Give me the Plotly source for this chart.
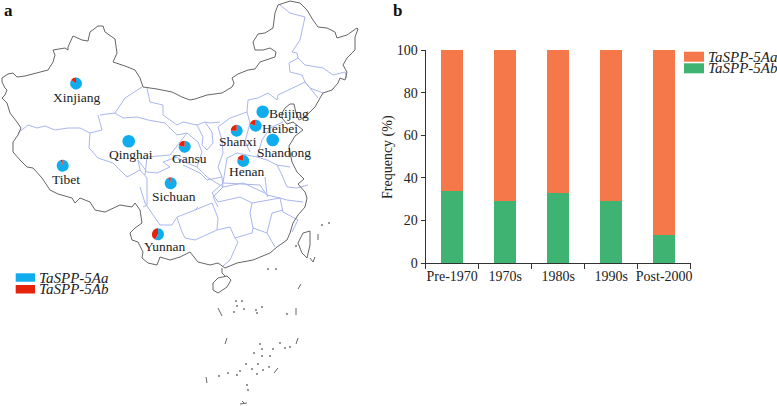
"""
plot.py - China map of TaSPP-5A allele shares (a) next to a stacked bar of frequency by era (b).
Map outlines are read off the reference in page pixels, so the overlay axes run 0-777 / 406-0.
"""

import plotly.graph_objects as go

W, H = 777, 406
SERIF = "Liberation Serif, Times New Roman, serif"
INK = "#222222"
BLUE = "#0FADEE"
RED = "#E5230D"
ORANGE = "#F4784A"
GREEN = "#3EB372"
BORDER = "#666666"
PROVINCE = "#AAB6EE"

# ── panel b data ─────────────────────────────────────────────────────────────
eras = ["Pre-1970", "1970s", "1980s", "1990s", "Post-2000"]
freq_5ab = [34, 29, 33, 29, 13]
freq_5aa = [66, 71, 67, 71, 87]

# ── panel a data ─────────────────────────────────────────────────────────────
regions = ["Xinjiang", "Qinghai", "Tibet", "Gansu", "Sichuan", "Yunnan",
           "Shanxi", "Heibei", "Beijing", "Shandong", "Henan"]
share_5ab = [15, 0, 6, 22, 7, 42, 25, 20, 0, 0, 20]
share_5aa = [85, 100, 94, 78, 93, 58, 75, 80, 100, 100, 80]
pie_x = [76, 128.7, 62.7, 184.7, 170.7, 158, 236.7, 255.7, 262.7, 272.7, 243.3]
pie_y = [83.5, 141.3, 165.7, 146.7, 183.3, 234.3, 130.7, 125.7, 111.7, 140, 161]
pie_r = [6, 6.3, 6, 6, 6, 6, 6, 6, 6.3, 6.3, 6]
label_x = [76.7, 130.7, 66, 189.3, 174, 164.3, 238.3, 280.3, 289, 284.3, 246.7]
label_y = [97.5, 154, 179.3, 158.3, 196, 246.7, 141.7, 128.3, 113.3, 152.3, 171.7]

border = [
    (18, 135), (21, 128), (17, 122), (10, 113), (7, 103), (2, 98), (5, 95), (7, 90), (5, 88),
    (2, 82), (2, 78), (8, 74), (13, 73), (17, 77), (25, 76), (32, 74), (40, 72), (48, 70),
    (53, 62), (55, 55), (53, 50), (65, 48), (68, 50), (68, 47), (73, 36), (82, 40), (88, 41),
    (90, 32), (98, 26), (103, 26), (105, 32), (115, 39), (117, 53), (113, 62), (125, 66),
    (135, 70), (140, 78), (143, 87), (157, 89), (172, 92), (182, 97), (190, 100), (195, 99),
    (207, 95), (222, 93), (232, 87), (234, 83), (232, 78), (238, 74), (248, 70), (255, 69),
    (260, 62), (275, 57), (276, 52), (270, 48), (263, 50), (255, 50), (253, 42), (258, 34),
    (265, 33), (273, 28), (275, 13), (278, 5), (290, 1), (300, 3), (307, 10), (313, 20),
    (318, 27), (327, 28), (335, 32), (337, 38), (347, 35), (357, 28), (358, 29), (355, 37),
    (355, 50), (347, 58), (343, 65), (347, 72), (345, 80), (340, 78), (338, 83), (332, 90),
    (323, 93), (320, 98), (315, 107), (310, 112), (303, 118), (299, 120), (296, 113),
    (294, 104), (290, 104), (285, 108), (282, 113), (282, 118), (287, 124), (293, 122),
    (300, 127), (303, 130), (295, 136), (289, 146), (290, 152), (292, 162), (297, 172),
    (302, 177), (304, 179), (298, 184), (305, 192), (307, 198), (305, 207), (298, 215),
    (293, 223), (290, 233), (287, 240), (277, 247), (270, 253), (253, 260), (237, 263),
    (225, 268), (218, 263), (210, 265), (198, 262), (190, 252), (180, 257), (170, 260),
    (160, 257), (157, 265), (148, 263), (142, 258), (143, 252), (138, 242), (132, 240),
    (130, 233), (135, 228), (142, 223), (140, 210), (135, 203), (132, 207), (120, 205),
    (105, 212), (95, 210), (90, 202), (80, 198), (75, 203), (72, 198), (58, 194), (50, 190),
    (42, 178), (33, 168), (27, 167), (20, 160), (13, 152), (13, 142), (18, 135),
]
taiwan = [(310, 231), (303, 233), (298, 243), (302, 253), (307, 258), (310, 245), (310, 231)]
hainan = [(218, 278), (213, 283), (213, 290), (218, 293), (227, 287), (231, 280), (227, 276), (218, 278)]
hainan_link = [(222, 268), (222, 273), (225, 276)]
sea_dashes = [
    [(298, 289), (301, 284)], [(218, 308), (222, 316)], [(296, 308), (296, 315)],
    [(225, 344), (227, 338)], [(296, 344), (298, 338)], [(274, 373), (278, 368)],
    [(206, 377), (207, 383)], [(240, 404), (247, 403)], [(242, 401), (244, 403)],
    [(318, 240), (318, 234)], [(310, 258), (313, 262)], [(315, 257), (313, 262)],
]
sea_dots_x = [236, 242, 237, 244, 234, 256, 262, 257, 287, 260, 262, 273, 280, 285, 290, 254, 262,
              270, 246, 258, 252, 263, 269, 240, 228, 219, 237, 257, 247, 248, 322, 329, 296, 268, 276]
sea_dots_y = [301, 301, 306, 309, 312, 310, 307, 313, 314, 344, 349, 349, 343, 348, 347, 353, 356,
              356, 364, 364, 369, 370, 367, 371, 373, 376, 375, 374, 385, 390, 225, 223, 246, 269, 269]

province_lines = [
    [(18, 133), (28, 125), (37, 128), (45, 126), (55, 130), (68, 128), (80, 128), (90, 133)],
    [(90, 133), (89, 148), (98, 158), (113, 163), (127, 177), (140, 170), (147, 178), (147, 205), (143, 207)],
    [(98, 115), (102, 130), (90, 133)],
    [(100, 115), (115, 113), (125, 98), (142, 87)],
    [(115, 113), (123, 118), (137, 117), (148, 120), (165, 123), (177, 135), (187, 133), (170, 155), (147, 157), (145, 175)],
    [(147, 88), (150, 102), (163, 105), (163, 115), (177, 125), (183, 122), (197, 125), (205, 122), (210, 123), (220, 122)],
    [(197, 125), (203, 137), (202, 145), (207, 150), (213, 143), (212, 132), (205, 122)],
    [(140, 170), (138, 160), (147, 172), (157, 173), (170, 167), (163, 162), (177, 157)],
    [(187, 133), (198, 142), (202, 152), (197, 167), (187, 163), (173, 155)],
    [(197, 167), (207, 177), (223, 187), (213, 197), (218, 207)],
    [(140, 187), (145, 203), (153, 215), (160, 225), (172, 225), (177, 217), (195, 210), (198, 207)],
    [(177, 218), (182, 232), (185, 238), (195, 240), (217, 230), (230, 227), (235, 238)],
    [(195, 210), (212, 203), (218, 218), (217, 230)],
    [(218, 202), (240, 197), (252, 203), (250, 213), (253, 228), (252, 233), (235, 238)],
    [(235, 238), (238, 242), (230, 260), (222, 267)],
    [(252, 203), (280, 198), (283, 212), (298, 220), (292, 232)],
    [(253, 228), (267, 233), (272, 213), (283, 210)],
    [(267, 233), (275, 247)],
    [(265, 177), (267, 195), (280, 198), (287, 200), (303, 202)],
    [(222, 177), (223, 187), (243, 183), (265, 193)],
    [(223, 183), (212, 193), (218, 202)],
    [(227, 158), (223, 183), (260, 185), (268, 197)],
    [(227, 158), (237, 153), (257, 157), (267, 160), (277, 165), (290, 167)],
    [(277, 165), (282, 175), (287, 187), (297, 188), (308, 185)],
    [(257, 157), (262, 140), (270, 128), (283, 122)],
    [(248, 100), (258, 98), (268, 93), (277, 100), (278, 95), (292, 88), (305, 82), (318, 98)],
    [(305, 82), (302, 75), (290, 72), (289, 63), (298, 58), (297, 53), (292, 52), (300, 40), (305, 17), (290, 13), (280, 5)],
    [(298, 58), (305, 65), (323, 68), (333, 75), (345, 72), (347, 78)],
    [(305, 82), (310, 88), (323, 93)],
    [(222, 140), (218, 127), (230, 118), (247, 112), (248, 100)],
    [(247, 112), (250, 123), (245, 142), (250, 152)],
    [(222, 140), (223, 153), (218, 167), (222, 177)],
    [(222, 177), (207, 180), (200, 173), (183, 165)],
]


def _path(lines):
    """Join point lists into x/y arrays with gaps between them."""
    xs, ys = [], []
    for line in lines:
        xs += [p[0] for p in line] + [None]
        ys += [p[1] for p in line] + [None]
    return xs, ys


fig = go.Figure()

# ── panel b: stacked bars ────────────────────────────────────────────────────
fig.add_trace(go.Bar(x=eras, y=freq_5ab, name="TaSPP-5Ab", marker_color=GREEN, width=0.41, marker_line_width=0))
fig.add_trace(go.Bar(x=eras, y=freq_5aa, name="TaSPP-5Aa", marker_color=ORANGE, width=0.41, marker_line_width=0))

# ── panel a: map lines ───────────────────────────────────────────────────────
px, py = _path(province_lines)
fig.add_trace(go.Scatter(x=px, y=py, mode="lines", xaxis="x2", yaxis="y2",
                         line=dict(color=PROVINCE, width=1)))
bx, by = _path([border, taiwan, hainan, hainan_link] + sea_dashes)
fig.add_trace(go.Scatter(x=bx, y=by, mode="lines", xaxis="x2", yaxis="y2",
                         line=dict(color=BORDER, width=1)))
fig.add_trace(go.Scatter(x=sea_dots_x, y=sea_dots_y, mode="markers", xaxis="x2", yaxis="y2",
                         marker=dict(color=BORDER, size=1.8)))

for i, region in enumerate(regions):
    fig.add_trace(go.Pie(
        values=[share_5aa[i], share_5ab[i]],
        labels=["TaSPP-5Aa", "TaSPP-5Ab"],
        sort=False, direction="clockwise", rotation=0,
        marker=dict(colors=[BLUE, RED], line=dict(width=0)),
        textinfo="none", name=region,
        domain=dict(x=[(pie_x[i] - pie_r[i]) / W, (pie_x[i] + pie_r[i]) / W],
                    y=[1 - (pie_y[i] + pie_r[i]) / H, 1 - (pie_y[i] - pie_r[i]) / H]),
    ))
    fig.add_annotation(x=label_x[i], y=label_y[i], xref="x2", yref="y2", text=region, showarrow=False,
                       font=dict(family=SERIF, size=13.5, color=INK))


def _legend_row(x0, x1, y0, y1, color, text, size):
    fig.add_shape(type="rect", x0=x0, x1=x1, y0=y0, y1=y1, xref="x2", yref="y2",
                  fillcolor=color, line_width=0)
    fig.add_annotation(x=x1 + 2, y=(y0 + y1) / 2, xref="x2", yref="y2", xanchor="left", showarrow=False,
                       text=f"<i>{text}</i>", font=dict(family=SERIF, size=size, color=INK))


_legend_row(15.7, 35, 273.3, 281.7, BLUE, "TaSPP-5Aa", 15)
_legend_row(15.7, 35, 285, 293.5, RED, "TaSPP-5Ab", 15)
_legend_row(684, 704, 51.7, 61.7, ORANGE, "TaSPP-5Aa", 15)
_legend_row(684, 704, 63.3, 73.3, GREEN, "TaSPP-5Ab", 15)

for letter, x in (("a", 8), ("b", 397)):
    fig.add_annotation(x=x, y=10, xref="x2", yref="y2", text=f"<b>{letter}</b>", showarrow=False,
                       font=dict(family=SERIF, size=17, color="#111111"))

fig.add_annotation(x=388, y=157, xref="x2", yref="y2", text="Frequency (%)", textangle=-90, showarrow=False,
                   font=dict(family=SERIF, size=14, color=INK))

fig.update_layout(
    width=W, height=H,
    margin=dict(l=0, r=0, t=0, b=0),
    paper_bgcolor="white", plot_bgcolor="rgba(0,0,0,0)",
    barmode="stack", showlegend=False,
    font=dict(family=SERIF, size=14, color=INK),
    xaxis=dict(domain=[425.7 / W, 690.7 / W], anchor="y", type="category", tickson="boundaries",
               tickangle=0, automargin=False,
               ticks="outside", ticklen=5, tickwidth=1.2, tickcolor="#333333",
               showline=True, linecolor="#333333", linewidth=1.2, showgrid=False, zeroline=False),
    yaxis=dict(domain=[1 - 263 / H, 1 - 50 / H], anchor="x", range=[0, 100], dtick=20, automargin=False,
               ticks="outside", ticklen=4, tickwidth=1.2, tickcolor="#333333",
               showline=True, linecolor="#333333", linewidth=1.2, showgrid=False, zeroline=False),
    xaxis2=dict(domain=[0, 1], anchor="y2", range=[0, W], visible=False, automargin=False),
    yaxis2=dict(domain=[0, 1], anchor="x2", range=[H, 0], visible=False, automargin=False),
)

# the page's default body margin would push everything 8px in
fig.write_html("out.html", config=dict(displayModeBar=False),
               post_script="document.body.style.margin = '0';")
